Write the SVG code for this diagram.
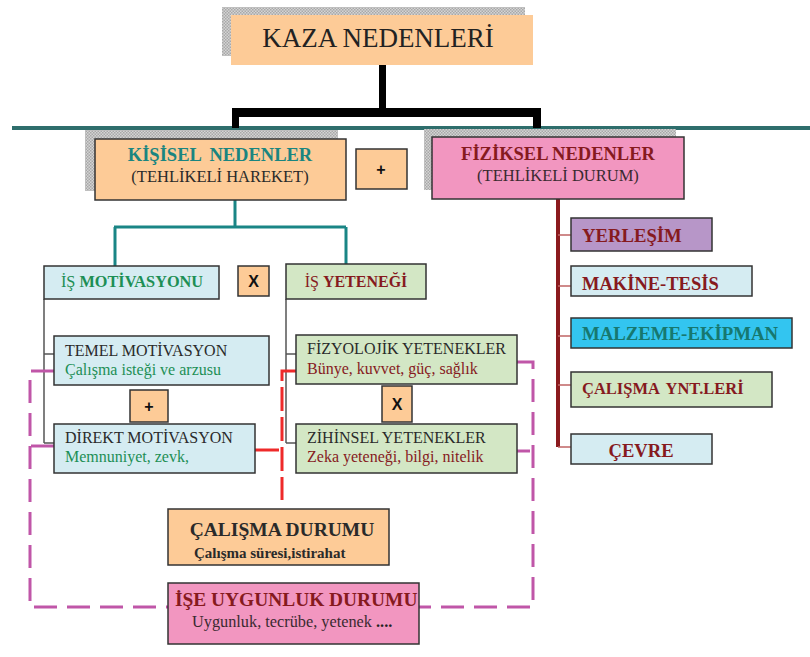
<svg xmlns="http://www.w3.org/2000/svg" width="810" height="657" viewBox="0 0 810 657">
<defs>
<pattern id="dots" width="3" height="3" patternUnits="userSpaceOnUse">
<rect width="3" height="3" fill="#d4d4d4"/>
<rect width="1.5" height="1.5" fill="#a8a8a8"/>
<rect x="1.5" y="1.5" width="1.5" height="1.5" fill="#a8a8a8"/>
</pattern>
</defs>
<style>
.box{stroke:#333;stroke-width:1.5}
.orange{fill:#fdcb97}
.blue{fill:#d5ecf2}
.green{fill:#d3e7c5}
.pink{fill:#f296c0}
.purple{fill:#b796c8}
.cyan{fill:#33c5f0}
.shadow{fill:url(#dots)}
text{font-family:"Liberation Serif","Times New Roman",serif}
.b{font-weight:bold}
.dred{fill:#861a1e}
.teal{fill:#1a8580}
.grn{fill:#1d8f55}
.dk{fill:#2a2a2a}
.sym{font-family:"Liberation Sans",Arial,sans-serif;font-weight:bold;font-size:16px;fill:#111}
.gray{stroke:#555;stroke-width:1.5;fill:none}
.mag{stroke:#c056a8;stroke-width:3;fill:none;stroke-dasharray:23 10}
.red{stroke:#ee2a2a;stroke-width:3;fill:none;stroke-dasharray:24 6}
.br{stroke:#c06464;stroke-width:1.5}
</style>

<g id="connectors">
<line x1="12" y1="128" x2="810" y2="128" stroke="#2e6e6c" stroke-width="4"/>
<rect x="379" y="65" width="7" height="47" fill="#000"/>
<rect x="232" y="108" width="309" height="9" fill="#000"/>
<rect x="232" y="108" width="7" height="20" fill="#000"/>
<rect x="533" y="108" width="8" height="20" fill="#000"/>
<path d="M235,200 V227 M114,227 H346 M115,227 V266 M346,227 V264" stroke="#1a8585" stroke-width="3" fill="none"/>
<path class="gray" d="M44,299 V443 M44,354 H54 M44,443 H54"/>
<path class="gray" d="M286,299 V443 M286,354 H296 M286,443 H296"/>
<line x1="558" y1="199" x2="558" y2="447" stroke="#8b1a1e" stroke-width="4"/>
<path class="br" d="M558,235 H571 M558,286 H571 M558,336 H571 M558,385 H571 M558,447 H571"/>
<path class="mag" d="M54,371 H30 V607 H168"/>
<path class="mag" d="M54,446 H30"/>
<path class="mag" d="M408,607 H533 V362 H517"/>
<path class="mag" d="M517,451 H530"/>
<path class="red" d="M296,371 H282 V500"/>
<path class="red" d="M255,450 H279"/>
</g>

<g id="kaza">
<rect class="shadow" x="222" y="7" width="303" height="49"/>
<rect class="orange" x="231" y="15" width="302" height="50"/>
<text x="378" y="47" text-anchor="middle" font-size="27" fill="#222">KAZA NEDENLERİ</text>
</g>

<g id="kisisel">
<rect class="shadow" x="85" y="130" width="253" height="61"/>
<rect class="box orange" x="95" y="139" width="251" height="61"/>
<text x="220" y="161" text-anchor="middle" font-size="18.5" class="b teal" word-spacing="4">KİŞİSEL NEDENLER</text>
<text x="220" y="182" text-anchor="middle" font-size="16.5" class="dk">(TEHLİKELİ HAREKET)</text>
</g>

<g id="plus1">
<rect class="box orange" x="356" y="149" width="51" height="40"/>
<text x="381" y="175" text-anchor="middle" class="sym">+</text>
</g>

<g id="fiziksel">
<rect class="shadow" x="424" y="129" width="252" height="61"/>
<rect class="box pink" x="432" y="137" width="252" height="62"/>
<text x="558" y="160" text-anchor="middle" font-size="18.5" class="b dred">FİZİKSEL NEDENLER</text>
<text x="558" y="181" text-anchor="middle" font-size="16.5" fill="#3a2a30">(TEHLİKELİ DURUM)</text>
</g>

<g id="motivasyon">
<rect class="box blue" x="44" y="266" width="175" height="33"/>
<text x="132" y="287" text-anchor="middle" font-size="16.3" class="grn">İŞ <tspan class="b">MOTİVASYONU</tspan></text>
</g>

<g id="x1">
<rect class="box orange" x="238" y="266" width="31" height="30"/>
<text x="253.5" y="287" text-anchor="middle" class="sym">X</text>
</g>

<g id="yetenek">
<rect class="box green" x="286" y="264" width="140" height="35"/>
<text x="356" y="287" text-anchor="middle" font-size="16" class="dred">İŞ <tspan class="b">YETENEĞİ</tspan></text>
</g>

<g id="temel">
<rect class="box blue" x="54" y="336" width="215" height="49"/>
<text x="65" y="356" font-size="16" class="dk">TEMEL MOTİVASYON</text>
<text x="65" y="375" font-size="16" class="grn">Çalışma isteği ve arzusu</text>
</g>

<g id="plus2">
<rect class="box orange" x="130" y="390" width="38" height="32"/>
<text x="149" y="412" text-anchor="middle" class="sym">+</text>
</g>

<g id="direkt">
<rect class="box blue" x="54" y="424" width="201" height="49"/>
<text x="65" y="443" font-size="16" class="dk">DİREKT MOTİVASYON</text>
<text x="65" y="462" font-size="16" class="grn">Memnuniyet, zevk,</text>
</g>

<g id="fizyolojik">
<rect class="box green" x="296" y="335" width="221" height="49"/>
<text x="307" y="354" font-size="16" class="dk">FİZYOLOJİK YETENEKLER</text>
<text x="307" y="374" font-size="16" class="dred">Bünye, kuvvet, güç, sağlık</text>
</g>

<g id="x2">
<rect class="box orange" x="382" y="386" width="30" height="36"/>
<text x="397" y="410" text-anchor="middle" class="sym">X</text>
</g>

<g id="zihinsel">
<rect class="box green" x="296" y="424" width="221" height="49"/>
<text x="307" y="443" font-size="16" class="dk">ZİHİNSEL YETENEKLER</text>
<text x="307" y="462" font-size="16" class="dred">Zeka yeteneği, bilgi, nitelik</text>
</g>

<g id="calisma-durumu">
<rect class="box orange" x="168" y="509" width="221" height="56"/>
<text x="282" y="536" text-anchor="middle" font-size="19.5" class="b dk">ÇALIŞMA DURUMU</text>
<text x="194" y="558" font-size="15" class="b dk">Çalışma süresi,istirahat</text>
</g>

<g id="ise-uygunluk">
<rect class="box pink" x="168" y="583" width="251" height="61"/>
<text x="175" y="606" font-size="19.4" class="b dred">İŞE UYGUNLUK DURUMU</text>
<text x="192" y="627" font-size="16.3" fill="#3a2a30">Uygunluk, tecrübe, yetenek <tspan class="b" fill="#222">....</tspan></text>
</g>

<g id="yerlesim">
<rect class="box purple" x="571" y="218" width="141" height="33"/>
<text x="582" y="242" font-size="18.7" class="b dred">YERLEŞİM</text>
</g>

<g id="makine">
<rect class="box blue" x="571" y="266" width="181" height="30"/>
<text x="582" y="290" font-size="18.5" class="b dred">MAKİNE-TESİS</text>
</g>

<g id="malzeme">
<rect class="box cyan" x="571" y="318" width="221" height="30"/>
<text x="582" y="340" font-size="18.8" class="b" fill="#17786f">MALZEME-EKİPMAN</text>
</g>

<g id="calisma-ynt">
<rect class="box green" x="571" y="372" width="201" height="35"/>
<text x="582" y="394" font-size="16.5" class="b dred" word-spacing="3">ÇALIŞMA YNT.LERİ</text>
</g>

<g id="cevre">
<rect class="box blue" x="571" y="434" width="141" height="30"/>
<text x="641" y="457" text-anchor="middle" font-size="18.6" class="b dred">ÇEVRE</text>
</g>
</svg>
